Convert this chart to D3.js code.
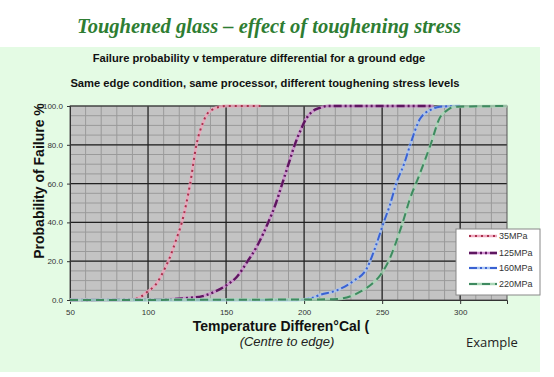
<!DOCTYPE html>
<html><head><meta charset="utf-8">
<script src="https://cdn.jsdelivr.net/npm/d3@7"></script>
<style>body{margin:0;background:#fff;}svg{display:block;}</style>
</head><body>
<svg id="c" width="554" height="377"></svg>
<script>
const seriesNames = ["35MPa", "125MPa", "160MPa", "220MPa"];
const x35 = [50, 88, 95, 100, 105, 110, 114, 118, 122, 127, 131, 135, 138, 142, 146, 150, 172];
const y35 = [0, 0, 1.5, 4.5, 8, 15, 22, 31, 41, 60, 80, 91, 96, 98.5, 99.6, 100, 100];
const x125 = [50, 110, 125, 135, 142, 150, 157, 163, 170, 177, 182, 186, 190, 194, 198, 201, 205, 210, 215, 283];
const y125 = [0, 0.3, 1, 2, 4, 7.5, 12, 19, 28, 40, 50, 60, 70, 80, 88, 93, 97, 99, 100, 100];
const x160 = [50, 195, 205, 210, 221, 232, 240, 246, 251, 255, 259, 264, 268, 274, 281, 287, 300];
const y160 = [0, 0, 1, 2.6, 5, 10, 16, 28, 40, 49, 60, 70, 80, 93, 98, 99.6, 100];
const x220 = [50, 210, 221, 230, 236, 243, 249, 255, 259, 263, 268, 273, 281, 287, 292, 296, 330];
const y220 = [0, 0.3, 0.5, 2, 4.3, 8, 13, 21.6, 30, 39.5, 52.6, 62.7, 80, 94, 98, 99.6, 100];
const xTicks = [50, 100, 150, 200, 250, 300];
const yTicks = [0, 20, 40, 60, 80, 100];

const svg = d3.select("#c");
const M = {l: 70, r: 507, t: 106, b: 300};
const x = d3.scaleLinear().domain([50, 330]).range([M.l, M.r]);
const y = d3.scaleLinear().domain([0, 100]).range([M.b, M.t]);
const SANS = "Liberation Sans, Arial, sans-serif";

// backgrounds
svg.append("rect").attr("x", 0).attr("y", 47).attr("width", 540).attr("height", 325).attr("fill", "#e4fbe4");

svg.append("text").attr("x", 269).attr("y", 33).attr("text-anchor", "middle")
  .attr("font-family", "'Liberation Serif', 'Times New Roman', serif").attr("font-style", "italic").attr("font-weight", "bold")
  .attr("font-size", 20.5).attr("fill", "#2e7d32").text("Toughened glass \u2013 effect of toughening stress");
svg.append("text").attr("x", 259).attr("y", 62).attr("text-anchor", "middle")
  .attr("font-family", SANS).attr("font-weight", "bold")
  .attr("font-size", 11.2).attr("fill", "#111").text("Failure probability v temperature differential for a ground edge");
svg.append("text").attr("x", 265).attr("y", 87).attr("text-anchor", "middle")
  .attr("font-family", SANS).attr("font-weight", "bold")
  .attr("font-size", 11.2).attr("fill", "#111").text("Same edge condition, same processor, different toughening stress levels");

// plot area
svg.append("rect").attr("x", M.l).attr("y", M.t).attr("width", M.r - M.l).attr("height", M.b - M.t).attr("fill", "#c3c3c3");
const g = svg.append("g");
g.selectAll("line.mx").data(d3.range(60, 330, 10)).join("line")
  .attr("x1", d => x(d)).attr("x2", d => x(d)).attr("y1", M.t).attr("y2", M.b)
  .attr("stroke", "#9a9a9a").attr("stroke-width", 1);
g.selectAll("line.my").data(d3.range(5, 100, 5)).join("line")
  .attr("y1", d => y(d)).attr("y2", d => y(d)).attr("x1", M.l).attr("x2", M.r)
  .attr("stroke", "#9a9a9a").attr("stroke-width", 1);
g.selectAll("line.Mx").data(xTicks.slice(1)).join("line")
  .attr("x1", d => x(d)).attr("x2", d => x(d)).attr("y1", M.t).attr("y2", M.b)
  .attr("stroke", "#222").attr("stroke-width", 1.2);
g.selectAll("line.My").data(yTicks.slice(1)).join("line")
  .attr("y1", d => y(d)).attr("y2", d => y(d)).attr("x1", M.l).attr("x2", M.r)
  .attr("stroke", "#222").attr("stroke-width", 1.2);
svg.append("rect").attr("x", M.l).attr("y", M.t).attr("width", M.r - M.l).attr("height", M.b - M.t)
  .attr("fill", "none").attr("stroke", "#555").attr("stroke-width", 1);

// axes
const xAxis = svg.append("g").attr("transform", `translate(0,${M.b})`)
  .call(d3.axisBottom(x).tickValues(xTicks).tickFormat(d3.format("d")).tickSize(4).tickPadding(5));
const yAxis = svg.append("g").attr("transform", `translate(${M.l},0)`)
  .call(d3.axisLeft(y).tickValues(yTicks).tickFormat(d3.format(".1f")).tickSize(3).tickPadding(4));
[xAxis, yAxis].forEach(a => {
  a.select(".domain").attr("stroke", "#333");
  a.selectAll(".tick line").attr("stroke", "#333");
  a.selectAll("text").attr("font-family", SANS).attr("font-size", 8).attr("fill", "#333");
});

// series
const styles = [
  {xs: x35, ys: y35, halo: "#efa6bd", col: "#a8304c", dash: "2,4", w: 2},
  {xs: x125, ys: y125, halo: "#cf8fcf", col: "#5e1660", dash: "8,3,2,3,2,3", w: 2.4},
  {xs: x160, ys: y160, halo: "#a9c4f2", col: "#3a62d2", dash: "8,3,2,3,2,3", w: 2},
  {xs: x220, ys: y220, halo: "#a9d6b6", col: "#3f8a60", dash: "8,5", w: 2}
];
const line = d3.line().x(d => x(d[0])).y(d => y(d[1])).curve(d3.curveMonotoneX);
styles.forEach(s => {
  const pts = s.xs.map((v, i) => [v, s.ys[i]]);
  svg.append("path").attr("d", line(pts)).attr("fill", "none").attr("stroke", s.halo)
    .attr("stroke-width", 3).attr("opacity", 0.8);
  svg.append("path").attr("d", line(pts)).attr("fill", "none").attr("stroke", s.col)
    .attr("stroke-width", s.w).attr("stroke-dasharray", s.dash);
});

// legend
const lg = svg.append("g");
lg.append("rect").attr("x", 456).attr("y", 229).attr("width", 84).attr("height", 66)
  .attr("fill", "#fff").attr("stroke", "#888").attr("stroke-width", 1);
seriesNames.forEach((n, i) => {
  const yy = [236, 253, 268, 284][i];
  const s = styles[i];
  lg.append("line").attr("x1", 469).attr("x2", 497).attr("y1", yy).attr("y2", yy)
    .attr("stroke", s.halo).attr("stroke-width", 2.5);
  lg.append("line").attr("x1", 469).attr("x2", 497).attr("y1", yy).attr("y2", yy)
    .attr("stroke", s.col).attr("stroke-width", s.w).attr("stroke-dasharray", s.dash);
  lg.append("text").attr("x", 499).attr("y", yy + 3).attr("font-family", SANS)
    .attr("font-size", 9).attr("fill", "#333").text(n);
});

// axis titles
svg.append("text").attr("transform", "translate(44,181) rotate(-90)").attr("text-anchor", "middle")
  .attr("font-family", SANS).attr("font-weight", "bold")
  .attr("font-size", 14).attr("fill", "#111").text("Probability of Failure %");
svg.append("text").attr("x", 281).attr("y", 331).attr("text-anchor", "middle")
  .attr("font-family", SANS).attr("font-weight", "bold")
  .attr("font-size", 14).attr("fill", "#111").text("Temperature Differen\u00b0Cal (");
svg.append("text").attr("x", 287).attr("y", 346).attr("text-anchor", "middle")
  .attr("font-family", SANS).attr("font-style", "italic")
  .attr("font-size", 13).attr("fill", "#222").text("(Centre to edge)");
svg.append("text").attr("x", 466).attr("y", 347)
  .attr("font-family", "Open Sans, sans-serif").attr("font-size", 13).attr("fill", "#222").text("Example");
</script>
</body></html>
